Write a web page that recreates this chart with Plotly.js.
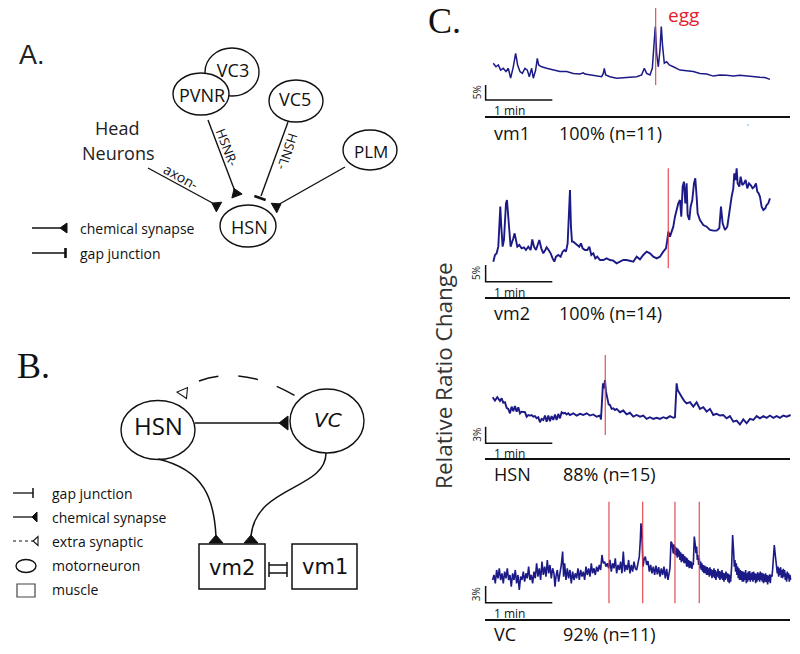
<!DOCTYPE html>
<html><head><meta charset="utf-8">
<script src="https://cdn.plot.ly/plotly-3.0.1.min.js"></script>
<style>html,body{margin:0;padding:0;background:#fff}#plot{width:800px;height:654px}</style>
</head><body><div id="plot"></div>
<script>
// ---------------- DATA (time in s, relative ratio change in %) ----------------
const cellNames = ['vm1', 'vm2', 'HSN', 'VC'];
const responders = ['100% (n=11)', '100% (n=14)', '88% (n=15)', '92% (n=11)'];
const scalePct = [5, 5, 3, 3];
const scaleLabels = ['5%', '5%', '3%', '3%'];
const scaleMin = 60; // 1 min bar

const vm1Time = [0,2.4,4.5,6.6,9,11.4,13.5,15.6,18,20.1,21.9,24,26.1,28.5,30.6,32.4,34.5,36,38.1,39.6,40.8,43.5,48,54,60,66,72,78,81,82.5,87,93,97.5,99,99.9,101.1,105,111,117,123,129,133.5,135.9,138,141,143.1,144.9,145.8,147,148.5,150,151.2,152.4,153.9,156,158.4,162,168,174,180,186,192,198,204,210,216,222,228,234,240,244.5,249];
const vm1Ratio = [5.6,4.4,5.0,3.3,3.9,2.8,3.9,0.6,4.4,8.9,5.0,2.8,2.2,3.9,3.3,1.1,3.9,0.6,3.3,7.2,5.0,4.4,3.9,3.3,2.8,2.8,2.2,2.0,2.4,2.0,1.7,1.3,1.1,2.2,3.9,1.7,1.1,0.6,0.8,0.9,1.1,1.7,3.9,2.2,1.7,3.9,12.2,17.8,8.9,4.4,10.0,17.8,11.1,5.6,6.1,5.0,4.4,3.3,3.1,2.8,2.2,2.0,1.3,1.7,1.6,1.3,1.6,1.3,1.1,0.9,0.8,0.2];

const vm2Time = [0,1.5,3,4.5,5.4,6.3,7.2,8.4,9.6,10.5,11.4,12.3,13.2,14.4,15.6,16.8,18,19.2,20.4,21.6,23.4,25.5,27.6,29.4,31.5,33.6,35.1,36.6,38.4,39.9,41.4,43.2,45,46.8,48,49.8,51.6,53.4,54.9,56.4,58.5,60.6,62.4,63.9,65.4,66.9,68.1,69,69.9,70.8,72,73.5,75.6,77.4,78.9,80.4,82.5,84.6,86.4,88.2,90,91.8,93.6,96,99,102,105,108,111,114,117,120,123,126,129,132,135,138,141,144,147,150,153,155.4,156.6,157.5,159,160.5,162,163.5,165,166.5,168,169.2,170.4,171.6,172.8,174,174.9,176.4,177.6,179.1,180.6,181.8,183,183.9,186,189,192,195,198,201,203.4,204.9,206.4,208.5,210.6,211.8,213,214.5,216,216.9,218.1,219,219.9,221.4,222.6,224.1,225.6,227.1,228.6,230.1,231.6,233.4,234.9,236.4,237.6,238.8,240,241.5,243,244.8,246,247.5,249];
const vm2Ratio = [1.0,3.0,3.5,5.5,11.5,17.5,11.5,5.5,7.5,14.5,18.5,19.5,16.5,10.5,5.5,6.5,8.0,9.5,7.0,5.5,6.0,5.0,5.3,4.5,5.5,4.5,7.7,5.5,4.5,6.0,7.5,5.0,3.5,4.5,5.3,4.5,3.5,2.0,1.0,2.5,3.0,2.5,4.0,4.5,4.0,6.5,14.5,22.5,11.5,7.0,7.0,6.5,6.0,5.5,6.5,5.0,4.5,4.5,5.5,3.0,3.5,2.0,2.5,1.5,1.5,2.0,1.5,1.3,0.5,1.0,1.5,1.5,1.3,1.0,2.5,1.7,3.0,4.0,3.5,2.5,2.0,2.5,4.0,5.0,7.5,10.0,8.5,10.0,11.5,14.5,17.0,18.5,19.5,14.5,23.5,25.0,18.5,24.5,15.0,13.5,17.5,19.5,24.5,26.0,20.5,15.5,13.5,12.0,11.5,10.5,10.3,10.3,11.0,17.5,12.5,10.5,11.5,14.5,18.0,20.5,23.0,27.5,25.5,29.0,24.5,23.5,26.5,24.0,24.5,25.5,23.0,24.5,24.0,23.0,23.5,24.5,22.0,21.5,20.5,17.5,16.5,17.0,18.0,18.5,20.0];

const hsnTime = [-0.6,1.5,3.6,6,7.5,9,10.5,12,13.5,15,16.5,18,19.5,21,22.5,24,25.5,27,28.5,30,31.5,33,34.5,36,37.5,39,40.5,42,43.5,45,46.5,48,49.5,51,52.5,54,55.5,57,58.5,60,61.5,63,64.5,66,67.5,69,72,75,78,81,84,87,90,93,96,96.9,97.8,98.7,99.6,100.5,101.4,102.6,103.8,105,106.5,108,109.5,111,114,117,120,123,126,129,132,135,138,141,144,147,150,153,156,159,162,163.5,164.1,165,165.9,167.4,169.5,171.6,174,177,180,183,186,189,192,195,198,201,204,207,210,213,216,219,222,225,228,231,234,237,240,243,246,249,252,255,258,261,264,267.6];
const hsnRatio = [4.1,3.5,4.1,3.4,3.9,3.1,3.2,2.2,2.0,1.2,2.4,1.6,2.5,1.5,2.3,1.2,1.5,1.5,1.4,0.6,0.9,0.8,0.9,0.6,0.7,0.3,0.5,-0.4,0.2,0.0,0.8,-0.3,0.8,-0.2,0.7,0.0,1.0,0.0,1.1,0.3,1.4,1.2,1.3,1.0,1.2,0.9,1.2,0.8,1.1,0.9,1.2,0.8,1.0,0.6,0.8,0.1,4.2,6.6,5.7,7.2,5.1,3.8,2.8,2.7,2.0,2.1,1.8,2.0,1.4,1.7,1.0,1.3,0.6,0.9,0.6,0.8,0.2,0.5,0.2,0.4,0.2,0.5,0.3,0.7,0.4,0.5,4.2,6.6,5.4,4.8,4.2,3.5,3.0,3.2,2.4,3.2,2.0,2.3,1.5,2.0,0.9,1.1,0.8,0.9,0.3,0.7,-0.3,-0.1,-0.8,0.1,-0.6,0.2,0.0,0.7,0.3,0.7,0.4,0.8,0.4,0.7,0.4,0.8,0.6,0.9];

const vcTime = [-0.6,0.6,1.8,3,4.2,5.4,6.6,7.8,9,10.2,11.4,12.6,13.8,15,16.2,17.4,18.6,19.8,21,22.2,23.4,24.6,25.8,27,28.2,29.4,30.6,31.8,33,34.2,35.4,36.6,37.8,39,40.2,41.4,42.6,43.8,45,46.2,47.4,48.6,49.8,51,52.2,53.4,54.6,55.5,56.4,57.6,58.8,60,61.2,62.4,63.3,64.2,65.4,66.6,67.8,69,70.2,71.4,72.6,73.8,75,76.2,77.4,78.6,79.8,81,82.2,83.4,84.6,85.8,87,88.2,89.4,90.6,91.8,93,94.2,95.4,96.6,97.8,99,100.2,101.4,102.6,103.8,105,106.2,107.4,108.6,109.8,111,112.2,113.4,114.6,115.8,117,118.2,119.4,120.6,121.8,123,124.2,125.4,126.6,127.8,129,130.2,131.4,132.3,132.9,133.8,
  134.7,135.6,136.8,138.0,139.2,140.4,141.6,142.8,144.0,145.2,146.4,147.6,148.8,150.0,151.2,152.4,153.6,154.8,156.0,157.2,158.4,159.0,159.9,160.8,162.0,162.6,163.2,163.8,164.4,165.0,165.6,166.2,166.8,167.4,168.0,168.6,169.2,169.8,170.4,171.0,171.6,172.2,172.8,173.4,174.0,174.6,175.2,175.8,176.4,177.0,177.6,178.2,178.8,179.4,180.0,180.9,181.8,182.4,183.0,183.6,184.2,184.8,185.4,186.0,186.6,187.2,187.8,188.4,189.0,189.6,190.2,190.8,191.4,192.0,192.6,193.2,193.8,194.4,195.0,195.6,196.2,196.8,197.4,198.0,198.6,199.2,199.8,200.4,201.0,201.6,202.2,202.8,203.4,204.0,204.6,205.2,205.8,206.4,207.0,207.6,208.2,208.8,209.4,210.0,210.6,211.2,211.8,212.4,213.0,213.6,214.5,215.4,216.3,216.9,217.5,218.1,218.7,219.3,219.9,220.5,221.1,221.7,222.3,222.9,223.5,224.1,224.7,225.3,225.9,226.5,227.1,227.7,228.3,228.9,229.5,230.1,230.7,231.3,231.9,232.5,233.1,233.7,234.3,234.9,235.5,236.1,236.7,237.3,237.9,238.5,239.1,239.7,240.3,240.9,241.5,242.1,242.7,243.3,243.9,244.5,245.1,245.7,246.3,246.9,247.5,248.1,248.7,249.3,249.9,250.8,251.4,252.0,252.9,253.8,254.4,255.0,255.6,256.2,256.8,257.4,258.0,258.6,259.2,259.8,260.4,261.0,261.6,262.2,262.8,263.4,264.0,264.6,265.2,265.8,266.4,267.0,267.6];
const vcRatio = [0.6,1.5,0,2.4,0.9,2.7,0.6,1.8,0,2.1,0.9,2.7,0.6,1.5,-0.6,1.8,0.6,2.4,0,1.5,-1.2,1.2,0.6,2.1,0.3,1.8,0.9,3.0,0.6,1.5,0,2.1,0.9,3.6,1.2,2.7,0.6,3.9,1.5,3.0,1.2,4.2,1.8,3.3,0.9,2.7,1.8,-0.6,1.2,2.4,0.3,1.8,3.3,5.7,1.2,3.6,0.6,2.7,0.9,2.4,0,2.1,0.6,1.8,0.9,2.7,0.6,2.4,1.2,2.1,0.6,3.0,1.5,2.7,1.2,3.6,1.8,2.7,1.5,3.0,2.1,3.3,2.4,5.1,3.6,3.9,3.0,3.6,2.7,4.2,2.1,3.6,2.7,4.5,1.8,3.3,2.4,3.9,1.8,5.7,2.1,3.3,2.4,4.2,1.8,3.3,2.1,3.9,2.7,2.4,3.6,4.8,7.8,10.8,8.7,
  3.0,4.2,4.8,3.3,4.0,2.1,3.3,1.8,3.0,1.5,3.2,1.6,2.9,1.2,2.7,1.5,3.0,0.9,2.6,0.6,2.0,2.7,7.5,7.2,5.4,7.0,5.2,6.6,5.0,6.4,4.6,6.2,4.8,5.9,4.2,5.6,3.8,5.3,4.0,5.2,3.6,4.9,3.6,4.7,3.0,4.5,3.0,4.2,2.7,4.0,2.8,3.9,2.6,3.6,3.3,8.4,6.9,5.4,6.6,4.2,5.1,3.3,4.5,2.7,3.9,2.4,3.6,2.1,3.3,1.8,3.2,1.8,3.0,1.5,2.9,1.5,2.7,1.2,2.9,1.4,2.5,0.9,2.4,1.2,2.7,0.9,2.4,0.6,2.1,1.2,2.6,0.9,2.2,0.6,2.1,0.9,2.4,0.6,1.9,0.3,1.8,0.6,2.1,0.9,1.8,0.3,1.7,0.0,1.5,0.3,3.0,8.7,5.7,3.0,4.2,2.1,3.6,1.5,3.0,0.9,2.7,0.6,2.4,0.6,2.2,0.3,2.1,0.3,2.0,0.6,2.4,0.0,1.8,0.3,2.1,0.6,2.2,0.3,1.8,0.6,2.0,0.3,2.1,0.6,1.8,0.0,1.7,0.3,2.0,0.6,1.8,0.3,2.1,0.6,1.9,0.3,1.8,0.0,1.6,0.3,1.8,0.2,1.5,-0.2,1.4,0.3,1.6,0.0,1.5,1.2,2.5,4.8,6.9,5.1,3.9,3.3,1.8,3.0,1.2,2.7,1.5,2.9,1.0,2.4,0.9,2.6,1.2,2.4,0.6,1.8,0.3,2.1,0.9,1.8,0.3,1.5,0.6];

const eggTimes = [[146.1], [157.5], [100.8], [104.1, 134.4, 163.5, 185.4]];

// ---------------- LAYOUT GEOMETRY ----------------
const W = 800, H = 654;
const FONT = 'Open Sans, sans-serif';
const INK = '#111';
const TRACE_COLOR = '#1c1a86';
const EGG_COLOR = 'rgba(228,60,70,0.85)';

const x0px = 493.3, pxPerSec = 1 / 0.9;
const xDomPx = [470, 800];
const panels = [
  {top: 0,   bot: 122, p0: 80,    s: 3.0,   egg: [-1.7, 24],  barBot: -6.67, sep: 117, lab: 133, w: 1.5},
  {top: 140, bot: 300, p0: 265,   s: 3.333, egg: [-1, 29],    barBot: -5.0,  sep: 298, lab: 313, w: 1.9},
  {top: 330, bot: 462, p0: 420,   s: 5.556, egg: [-2.7, 11.7],barBot: -4.2,  sep: 459, lab: 474, w: 1.9},
  {top: 480, bot: 625, p0: 583.3, s: 5.556, egg: [-3.6, 14.7],barBot: -3.5,  sep: 620, lab: 634, w: 1.6}
];
const series = [[vm1Time, vm1Ratio], [vm2Time, vm2Ratio], [hsnTime, hsnRatio], [vcTime, vcRatio]];
const barT0 = -6.9;

const layout = {
  width: W, height: H, margin: {l: 0, r: 0, t: 0, b: 0},
  paper_bgcolor: '#fff', plot_bgcolor: 'rgba(0,0,0,0)', showlegend: false,
  xaxis: {range: [0, W], domain: [0, 1], visible: false, fixedrange: true},
  yaxis: {range: [H, 0], domain: [0, 1], visible: false, fixedrange: true},
  shapes: [], annotations: []
};
const traces = [];

function ann(o) { layout.annotations.push(Object.assign({xref: 'x', yref: 'y', showarrow: false, font: {family: FONT, size: 14, color: INK}}, o)); }
function line(x0, y0, x1, y1, w, dash) { layout.shapes.push({type: 'line', xref: 'x', yref: 'y', x0, y0, x1, y1, line: {color: INK, width: w || 1.5, dash: dash || 'solid'}, layer: 'above'}); }
function ell(cx, cy, rx, ry, layer) { layout.shapes.push({type: 'circle', xref: 'x', yref: 'y', x0: cx - rx, x1: cx + rx, y0: cy - ry, y1: cy + ry, line: {color: INK, width: 1.4}, fillcolor: '#fff', layer: layer || 'above'}); }
function rect(x0, y0, x1, y1, w) { layout.shapes.push({type: 'rect', xref: 'x', yref: 'y', x0, y0, x1, y1, line: {color: INK, width: w || 1.5}, fillcolor: '#fff', layer: 'above'}); }
function path(d, w, dash, fill) { layout.shapes.push({type: 'path', xref: 'x', yref: 'y', path: d, line: {color: INK, width: w || 1.5, dash: dash || 'solid'}, fillcolor: fill || 'rgba(0,0,0,0)', layer: 'above'}); }
function tri(ex, ey, fx, fy, len, hw, open) {
  const dx = fx - ex, dy = fy - ey, L = Math.hypot(dx, dy), ux = dx / L, uy = dy / L, nx = -uy, ny = ux;
  const d = `M${ex + nx * hw},${ey + ny * hw} L${ex - nx * hw},${ey - ny * hw} L${ex + ux * len},${ey + uy * len} Z`;
  path(d, open ? 1.1 : 1, 'solid', open ? '#fff' : INK);
}
function bar(ex, ey, fx, fy, hw, w) {
  const dx = fx - ex, dy = fy - ey, L = Math.hypot(dx, dy), nx = -dy / L, ny = dx / L;
  line(ex + nx * hw, ey + ny * hw, ex - nx * hw, ey - ny * hw, w || 2.5);
}

// ---------------- PANEL A ----------------
ann({x: 32, y: 55, text: 'A.', font: {family: 'Liberation Sans, Arial, sans-serif', size: 27, color: '#222'}});
ell(232, 72, 27, 24, 'below');
traces.push({type: 'scatter', mode: 'text', x: [233], y: [72], text: ['VC3'], textfont: {family: FONT, size: 18, color: INK}, xaxis: 'x', yaxis: 'y', hoverinfo: 'skip', cliponaxis: false});
ell(201, 94, 28, 21);
ell(296, 101, 27, 21);
ell(370, 150, 27, 20);
ell(248, 226, 28, 21);
ann({x: 202, y: 95, text: 'PVNR', font: {family: FONT, size: 18, color: INK}});
ann({x: 295, y: 99, text: 'VC5', font: {family: FONT, size: 18, color: INK}});
ann({x: 371, y: 151, text: 'PLM', font: {family: FONT, size: 17, color: INK}});
ann({x: 249, y: 227, text: 'HSN', font: {family: FONT, size: 18, color: INK}});
ann({x: 117, y: 128, text: 'Head', font: {family: FONT, size: 18, color: '#222'}});
ann({x: 118, y: 153, text: 'Neurons', font: {family: FONT, size: 18, color: '#222'}});
line(148, 168, 218, 206, 1.4); tri(219, 207, 148, 168, 8, 5.5);
line(208, 120, 236, 194, 1.4); tri(237, 196, 208, 120, 8, 5.5);
line(288, 122, 261, 196, 1.4); bar(260, 198, 288, 122, 6, 2.6);
line(345, 167, 276, 206, 1.4); tri(274, 208, 345, 167, 8, 5.5);
ann({x: 181, y: 176, text: 'axon-', textangle: 29, font: {family: FONT, size: 14, color: INK}});
ann({x: 227, y: 147, text: 'HSNR-', textangle: 69, font: {family: FONT, size: 13, color: INK}});
ann({x: 288, y: 151, text: 'HSNL-', textangle: 108, font: {family: FONT, size: 13, color: INK}});
line(32, 228, 60, 228, 1.5); tri(67, 228, 32, 228, 7, 5);
ann({x: 78, y: 228, xanchor: 'left', text: 'chemical synapse', font: {family: FONT, size: 14, color: INK}});
line(32, 253, 65, 253, 1.5); bar(65.5, 253, 32, 253, 5, 2.6);
ann({x: 78, y: 253, xanchor: 'left', text: 'gap junction', font: {family: FONT, size: 14, color: INK}});

// ---------------- PANEL B ----------------
ann({x: 33, y: 366, text: 'B.', font: {family: 'Liberation Serif, Times New Roman, serif', size: 36, color: '#111'}});
path('M199,381 Q245,364 302,400', 1.5, '20px,20px');
tri(187, 393, 176, 392, 10, 5.5, true);
ell(158, 430, 37, 29.5);
ell(327, 421, 37, 32);
ann({x: 158, y: 425, text: 'HSN', font: {family: FONT, size: 24, color: INK}});
ann({x: 328, y: 420, text: '<i>VC</i>', font: {family: 'DejaVu Sans, sans-serif', size: 20, color: INK}});
line(195, 423, 282, 423, 1.4); tri(288, 423, 195, 423, 9, 7);
path('M158,459 C205,470 214,500 216,536', 1.5);
tri(216, 543, 216, 500, 8, 7);
path('M326,453 C326,490 256,485 251,536', 1.5);
tri(251, 543, 251, 500, 8, 7);
rect(199, 544, 265, 589);
rect(292, 544, 357, 589);
ann({x: 232, y: 568, text: 'vm2', font: {family: 'DejaVu Sans, sans-serif', size: 21, color: INK}});
ann({x: 325, y: 567, text: 'vm1', font: {family: 'DejaVu Sans, sans-serif', size: 21, color: INK}});
line(269, 562, 269, 577, 1.5); line(287, 562, 287, 577, 1.5);
line(269, 565, 287, 565, 1.5); line(269, 573, 287, 573, 1.5);
line(13, 493, 33, 493, 1.3); line(33, 488, 33, 498, 1.5);
ann({x: 50, y: 493, xanchor: 'left', text: 'gap junction', font: {family: FONT, size: 14, color: INK}});
line(13, 517, 32, 517, 1.3); tri(37, 517, 13, 517, 5, 5);
ann({x: 50, y: 517, xanchor: 'left', text: 'chemical synapse', font: {family: FONT, size: 14, color: INK}});
line(13, 541, 33, 541, 1.1, '3px,3px'); tri(38, 541, 13, 541, 5, 4.5, true);
ann({x: 50, y: 541, xanchor: 'left', text: 'extra synaptic', font: {family: FONT, size: 14, color: INK}});
ell(26, 566, 10, 6.5);
ann({x: 50, y: 565, xanchor: 'left', text: 'motorneuron', font: {family: FONT, size: 14, color: INK}});
layout.shapes.push({type: 'rect', xref: 'x', yref: 'y', x0: 17, x1: 35, y0: 584, y1: 597, line: {color: '#444', width: 1.2}, fillcolor: '#fff', layer: 'above'});
ann({x: 50, y: 589, xanchor: 'left', text: 'muscle', font: {family: FONT, size: 14, color: INK}});

// ---------------- PANEL C ----------------
ann({x: 444, y: 21, text: 'C.', font: {family: 'Liberation Serif, Times New Roman, serif', size: 36, color: '#111'}});
ann({x: 666, y: 15, xanchor: 'left', text: 'egg', font: {family: FONT, size: 19, color: '#e3202b'}});
ann({x: 443, y: 376, text: 'Relative Ratio Change', textangle: -90, font: {family: FONT, size: 22.5, color: '#333'}});
ann({x: 748, y: 127, text: "'", font: {family: FONT, size: 9, color: '#888'}});

panels.forEach((p, i) => {
  const n = i + 2, xa = 'x' + n, ya = 'y' + n;
  layout['xaxis' + n] = {domain: [xDomPx[0] / W, xDomPx[1] / W], range: [(xDomPx[0] - x0px) / pxPerSec, (xDomPx[1] - x0px) / pxPerSec], visible: false, fixedrange: true, anchor: ya};
  layout['yaxis' + n] = {domain: [1 - p.bot / H, 1 - p.top / H], range: [(p.p0 - p.bot) / p.s, (p.p0 - p.top) / p.s], visible: false, fixedrange: true, anchor: xa};
  traces.push({type: 'scatter', mode: 'lines', x: series[i][0], y: series[i][1], xaxis: xa, yaxis: ya, line: {color: TRACE_COLOR, width: p.w}, hoverinfo: 'skip'});
  eggTimes[i].forEach(t => layout.shapes.push({type: 'line', xref: xa, yref: ya, x0: t, x1: t, y0: p.egg[0], y1: p.egg[1], line: {color: EGG_COLOR, width: 1.3}, layer: 'above'}));
  const bt = p.barBot + scalePct[i];
  layout.shapes.push({type: 'path', xref: xa, yref: ya, path: `M${barT0},${bt} L${barT0},${p.barBot} L${barT0 + scaleMin},${p.barBot}`, line: {color: INK, width: 1.5}, layer: 'above'});
  layout.annotations.push({xref: xa, yref: ya, x: barT0 - 8, y: p.barBot + scalePct[i] / 2, text: scaleLabels[i], textangle: -90, showarrow: false, font: {family: FONT, size: 10, color: '#222'}});
  layout.annotations.push({xref: xa, yref: ya, x: barT0 + 6, y: p.barBot, xanchor: 'left', yanchor: 'top', yshift: 0, text: '1 min', showarrow: false, font: {family: FONT, size: 12, color: INK}});
  line(485, p.sep, 790, p.sep, 2);
  ann({x: 492, y: p.lab, xanchor: 'left', text: cellNames[i], font: {family: FONT, size: 18, color: INK}});
  ann({x: i < 2 ? 557 : 561, y: p.lab, xanchor: 'left', text: responders[i], font: {family: FONT, size: 18, color: INK}});
});

Plotly.newPlot('plot', traces, layout, {staticPlot: true, displayModeBar: false});
</script></body></html>
